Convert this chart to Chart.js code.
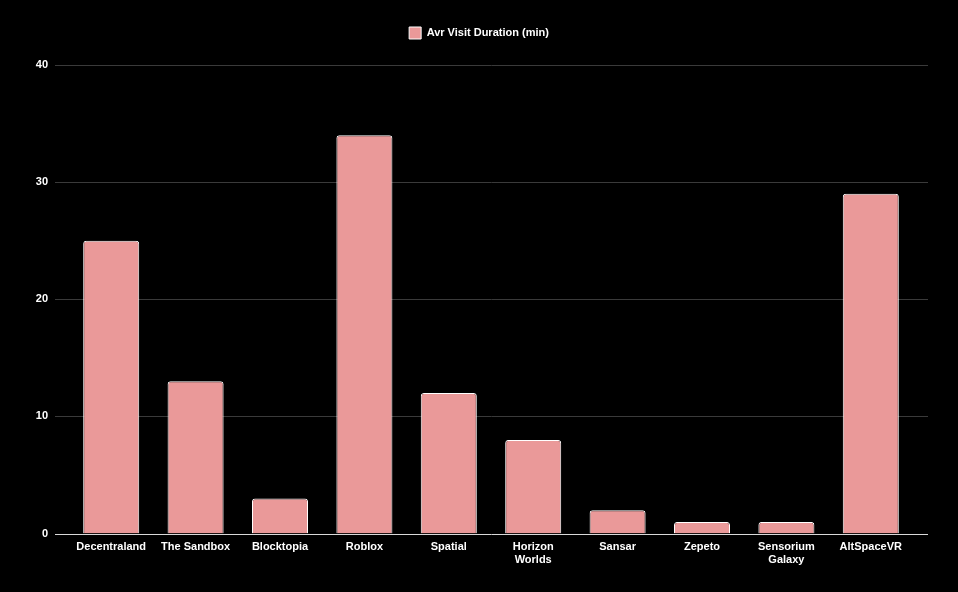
<!DOCTYPE html>
<html>
<head>
<meta charset="utf-8">
<script src="https://cdn.jsdelivr.net/npm/chart.js@4"></script>
<style>
  html, body { margin: 0; padding: 0; background: #000; }
  #wrap { width: 958px; height: 592px; }
</style>
</head>
<body>
<div id="wrap"><canvas id="myChart"></canvas></div>
<script>
const categories = ['Decentraland', 'The Sandbox', 'Blocktopia', 'Roblox', 'Spatial',
  ['Horizon', 'Worlds'], 'Sansar', 'Zepeto', ['Sensorium', 'Galaxy'], 'AltSpaceVR'];
const visitDuration = [25, 13, 3, 34, 12, 8, 2, 1, 1, 29];
const yTicks = [0, 10, 20, 30, 40];

Chart.defaults.font.family = '"Liberation Sans", Arial, sans-serif';
Chart.defaults.font.weight = 'bold';
Chart.defaults.font.size = 11;
Chart.defaults.color = '#fff';

// gridlines reach a bit past the first and last category, like the original
const wideGrid = {
  id: 'wideGrid',
  beforeDatasetsDraw(chart) {
    const { ctx, scales: { y } } = chart;
    ctx.save();
    ctx.lineWidth = 1;
    ctx.strokeStyle = '#3a3a3a';
    yTicks.filter(v => v !== 0).forEach(v => {
      const py = Math.round(y.getPixelForValue(v)) + 0.5;
      ctx.beginPath();
      ctx.moveTo(55, py);
      ctx.lineTo(928, py);
      ctx.stroke();
    });
    ctx.restore();
  },
  afterDatasetsDraw(chart) {
    const { ctx, scales: { y } } = chart;
    const py = Math.round(y.getPixelForValue(0)) + 0.5;
    ctx.save();
    ctx.strokeStyle = '#d9d9d9';
    ctx.beginPath();
    ctx.moveTo(55, py);
    ctx.lineTo(928, py);
    ctx.stroke();
    ctx.restore();
  }
};

// more room under the legend, and centre it on the whole canvas
const legendMargin = {
  id: 'legendMargin',
  beforeInit(chart) {
    const fit = chart.legend.fit;
    chart.legend.fit = function () {
      fit.bind(chart.legend)();
      this.height += 16;
    };
  },
  afterLayout(chart) {
    const l = chart.legend;
    l.left = 0;
    l.right = chart.width;
    l.width = chart.width;
  }
};

const ctx = document.getElementById('myChart').getContext('2d');
new Chart(ctx, {
  type: 'bar',
  data: {
    labels: categories,
    datasets: [{
      label: 'Avr Visit Duration (min)',
      data: visitDuration,
      backgroundColor: '#ea9999',
      borderColor: '#ffffff',
      borderWidth: 1,
      borderRadius: 3,
      borderSkipped: 'bottom',
      barPercentage: 0.83,
      categoryPercentage: 0.8
    }]
  },
  plugins: [wideGrid, legendMargin],
  options: {
    responsive: true,
    maintainAspectRatio: false,
    animation: false,
    layout: { padding: { left: 0, right: 45, top: 17, bottom: 18 } },
    plugins: {
      legend: {
        labels: { boxWidth: 12, boxHeight: 12, color: '#fff', padding: 10 }
      },
      tooltip: { enabled: false }
    },
    scales: {
      x: {
        grid: { display: false, drawTicks: false },
        border: { display: false },
        ticks: { color: '#fff', maxRotation: 0, autoSkip: false, padding: 7 }
      },
      y: {
        min: 0,
        max: 40,
        afterBuildTicks: axis => { axis.ticks = yTicks.map(v => ({ value: v })); },
        afterFit: axis => { axis.width = 69; },
        grid: { display: false, drawTicks: false },
        border: { display: false },
        ticks: { color: '#fff', padding: 21 }
      }
    }
  }
});
</script>
</body>
</html>
